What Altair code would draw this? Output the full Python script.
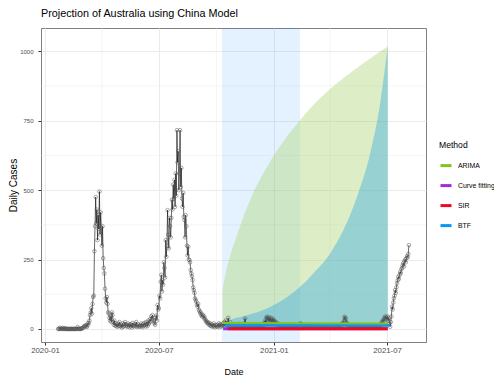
import altair as alt
import pandas as pd

FONT = "Liberation Sans, Arial, sans-serif"

# ---- observed daily cases (from 2020-01-22), by month ----
jan20 = [0, 0, 0, 4, 1, 0, 0, 4, 0, 1]
feb20 = [0, 3, 0, 0, 0, 0, 0, 0, 0, 0, 0, 0, 0, 0, 0, 0, 0, 0, 0, 0, 0, 7, 1, 0, 0, 0, 0, 2, 1]
mar20 = [3, 4, 8, 11, 9, 13, 10, 7, 20, 15, 22, 30, 50, 60, 75, 55, 90, 115, 120, 280, 370, 475, 380, 430, 320, 410, 360, 495, 340, 420, 365]
apr20 = [300, 370, 255, 220, 200, 145, 110, 95, 115, 90, 60, 55, 40, 30, 45, 25, 60, 50, 25, 15, 30, 12, 20, 10, 15, 8, 20, 12, 25, 10]
may20 = [10, 15, 5, 20, 8, 12, 18, 25, 10, 15, 12, 8, 20, 14, 6, 17, 10, 15, 5, 22, 12, 9, 14, 18, 10, 25, 7, 12, 16, 9, 11]
jun20 = [8, 14, 20, 10, 6, 18, 12, 22, 15, 9, 25, 16, 10, 30, 18, 22, 35, 28, 45, 38, 50, 32, 28, 20, 15, 42, 48, 30, 86, 70]
jul20 = [75, 120, 110, 170, 195, 135, 175, 160, 240, 220, 185, 320, 260, 300, 428, 340, 290, 400, 370, 330, 400, 465, 430, 520, 470, 537, 440, 560, 480, 716, 600]
aug20 = [640, 500, 560, 716, 512, 580, 470, 440, 490, 404, 392, 330, 410, 370, 300, 265, 296, 250, 248, 240, 212, 200, 190, 176, 150, 140, 130, 110, 104, 98, 87]
sep20 = [80, 90, 70, 65, 57, 60, 50, 45, 52, 48, 40, 44, 35, 28, 30, 22, 25, 20, 15, 22, 12, 18, 10, 15, 8, 12, 20, 10, 6, 14]
oct20 = [12, 8, 15, 10, 20, 6, 14, 18, 9, 12, 16, 20, 12, 25, 18, 30, 15, 20, 12, 40, 18, 15, 25, 10, 15, 12, 18, 8, 14, 10, 12]
nov20 = [8, 12, 10, 15, 6, 18, 10, 8, 12, 14, 16, 9, 10, 7, 20, 38, 15, 10, 8, 12, 9, 14, 10, 8, 12, 15, 10, 7, 12, 9]
dec20 = [10, 8, 12, 9, 14, 10, 7, 12, 9, 15, 10, 8, 12, 10, 14, 9, 20, 30, 25, 40, 44, 38, 30, 42, 35, 28, 40, 30, 25, 38, 32]
jan21 = [28, 30, 20, 25, 18, 15, 20, 12, 14, 10, 8, 12, 10, 9, 7, 12, 8, 10, 6, 9, 11, 8, 12, 10, 7, 9, 6, 10, 8, 12, 9]
feb21 = [10, 8, 12, 9, 7, 11, 8, 14, 10, 12, 16, 18, 20, 14, 10, 8, 12, 9, 7, 10, 8, 12, 9, 7, 10, 8, 12, 9]
mar21 = [8, 10, 12, 9, 7, 11, 8, 10, 9, 12, 14, 10, 8, 12, 9, 11, 10, 13, 9, 8, 12, 10, 14, 11, 9, 12, 10, 8, 14, 11, 9]
apr21 = [12, 10, 8, 14, 11, 9, 12, 10, 8, 13, 11, 9, 14, 12, 10, 8, 12, 15, 10, 18, 20, 22, 30, 44, 40, 38, 25, 20, 15, 12]
may21 = [10, 12, 9, 14, 11, 8, 12, 10, 13, 9, 11, 8, 12, 10, 14, 9, 11, 8, 12, 10, 9, 13, 11, 8, 12, 10, 14, 9, 11, 13, 10]
jun21 = [12, 9, 11, 14, 10, 12, 8, 13, 11, 9, 12, 10, 14, 11, 9, 12, 10, 15, 13, 11, 14, 18, 25, 30, 28, 35, 40, 45, 38, 42]
jul21 = [35, 45, 30, 40, 20, 8, 25, 45, 80, 70, 95, 110, 120, 140, 130, 150, 165, 175, 188, 180, 195, 205, 200, 215, 220, 230, 237, 225, 245, 250, 240]
aug21 = [255, 262, 258, 270, 302]

# ---- projection window ----
window_start = ["2020-10-10"]
window_end = ["2021-02-12"]

# ---- prediction bands ----
arima_band_dates = ["2020-10-11", "2020-10-14", "2020-10-18", "2020-10-23", "2020-11-01", "2020-11-12",
                    "2020-11-25", "2020-12-15", "2021-01-15", "2021-02-12", "2021-03-10", "2021-04-01",
                    "2021-05-01", "2021-05-24", "2021-07-02"]
arima_band_high = [140, 180, 220, 262, 325, 395, 470, 560, 672, 752, 818, 864, 918, 957, 1017]
btf_band_dates = ["2020-10-11", "2020-10-23", "2020-11-12", "2020-12-15", "2021-01-15", "2021-02-12",
                  "2021-03-05", "2021-04-01", "2021-05-14", "2021-06-04", "2021-06-20", "2021-07-02"]
btf_band_high = [10, 32, 45, 68, 104, 152, 200, 272, 476, 632, 812, 1017]

# ---- model point predictions ----
methods = ["ARIMA", "Curve fitting", "SIR", "BTF"]
method_colors = ["#80C41C", "#A12BE0", "#EE0A1E", "#0A96F0"]
arima_dates = ["2020-10-10", "2021-07-02"]
arima_vals = [21, 20]
cf_dates = ["2020-10-12", "2021-07-02"]
cf_vals = [1, 1]
sir_dates = ["2020-10-19", "2021-07-02"]
sir_vals = [1, 1]
btf_dates = ["2020-10-15", "2021-07-05"]
btf_vals = [13, 13]

# ---- axes ----
x_ticks = ["2020-01-01", "2020-07-01", "2021-01-01", "2021-07-01"]
x_minor = ["2020-04-01", "2020-10-01", "2021-04-01"]
y_ticks = [0, 250, 500, 750, 1000]
y_minor = [125, 375, 625, 875]

months = [jan20, feb20, mar20, apr20, may20, jun20, jul20, aug20, sep20, oct20, nov20, dec20,
          jan21, feb21, mar21, apr21, may21, jun21, jul21, aug21]
cases = [v for m in months for v in m]
obs = pd.DataFrame({
    "date": pd.date_range("2020-01-22", periods=len(cases), freq="D").strftime("%Y-%m-%d"),
    "cases": cases,
})

def dt(s, hours=0):
    y, m, d = [int(p) for p in s.split("-")]
    return alt.DateTime(year=y, month=m, date=d, hours=hours, utc=True)

x_scale = alt.Scale(type="utc", domain=[dt("2019-12-25", 14), dt("2021-09-01", 8)], nice=False)
y_scale = alt.Scale(domain=[-47, 1084], nice=False, zero=False)

x_axis = alt.Axis(values=[dt(s) for s in x_ticks], format="%Y-%m", title="Date",
                  grid=True, gridColor="#EBEBEB", gridWidth=1, domain=False,
                  tickColor="#333333", tickSize=3, tickWidth=1,
                  labelFont=FONT, labelFontSize=7.8, labelColor="#4D4D4D", labelPadding=1,
                  labelFlush=False, titleFont=FONT, titleFontSize=9, titleFontWeight="normal",
                  titleColor="black", titlePadding=14)
y_axis = alt.Axis(values=y_ticks, format="d", title="Daily Cases",
                  grid=True, gridColor="#EBEBEB", gridWidth=1, domain=False,
                  tickColor="#333333", tickSize=3, tickWidth=1,
                  labelFont=FONT, labelFontSize=6, labelColor="#4D4D4D", labelPadding=5,
                  titleFont=FONT, titleFontSize=10, titleFontWeight="normal",
                  titleColor="black", titlePadding=1)

X = lambda f="date": alt.X(f"{f}:T", scale=x_scale, axis=x_axis)
Y = lambda f: alt.Y(f"{f}:Q", scale=y_scale, axis=y_axis)

color_scale = alt.Scale(domain=methods, range=method_colors)
legend = alt.Legend(title="Method", orient="none", legendX=398, legendY=113,
                    symbolType="stroke", symbolStrokeWidth=3, symbolSize=121,
                    labelFont=FONT, labelFontSize=6.9, labelColor="black", labelOffset=5,
                    titleFont=FONT, titleFontSize=8.6, titleFontWeight="normal",
                    titleColor="black", titlePadding=9, rowPadding=7, padding=0)

# layers
minor_x = alt.Chart(pd.DataFrame({"date": x_minor})).mark_rule(
    color="#EBEBEB", strokeWidth=0.5).encode(x=X())
minor_y = alt.Chart(pd.DataFrame({"v": y_minor})).mark_rule(
    color="#EBEBEB", strokeWidth=0.5).encode(y=Y("v"))

window = alt.Chart(pd.DataFrame({"start": window_start, "end": window_end})).mark_rect(
    color="#1E90FF", opacity=0.12).encode(x=X("start"), x2="end:T")

arima_band = alt.Chart(pd.DataFrame({"date": arima_band_dates, "high": arima_band_high})).mark_area(
    color="#A6D36A", opacity=0.38, interpolate="monotone").encode(x=X(), y=Y("high"), y2=alt.datum(0))
btf_band = alt.Chart(pd.DataFrame({"date": btf_band_dates, "high": btf_band_high})).mark_area(
    color="#3AAAE0", opacity=0.42, interpolate="monotone").encode(x=X(), y=Y("high"), y2=alt.datum(0))

obs_line = alt.Chart(obs).mark_line(color="black", strokeWidth=0.6).encode(x=X(), y=Y("cases"))
obs_pts = alt.Chart(obs).mark_point(shape="circle", filled=False, color="#555555",
                                    strokeWidth=0.5, size=13, opacity=1).encode(x=X(), y=Y("cases"))

def model_layer(name, dates, vals, width=3):
    df = pd.DataFrame({"date": dates, "value": vals, "Method": [name] * len(dates)})
    return alt.Chart(df).mark_line(strokeWidth=width).encode(
        x=X(), y=Y("value"), color=alt.Color("Method:N", scale=color_scale, legend=legend))

lines = [
    model_layer("Curve fitting", cf_dates, cf_vals),
    model_layer("SIR", sir_dates, sir_vals),
    model_layer("BTF", btf_dates, btf_vals),
    model_layer("ARIMA", arima_dates, arima_vals, 2),
]

chart = alt.layer(minor_x, minor_y, window, arima_band, btf_band, obs_line, obs_pts, *lines).properties(
    width=385, height=314,
    padding={"left": 33, "top": 20, "right": 68, "bottom": 38},
    autosize=alt.AutoSizeParams(type="none"),
    title=alt.TitleParams("Projection of Australia using China Model", anchor="start", frame="group",
                          font=FONT, fontSize=10.8, fontWeight="normal", color="black", offset=9),
).configure_view(stroke="#7F7F7F", strokeWidth=1)

chart.save("out.html", embed_options={"renderer": "svg", "actions": False})
